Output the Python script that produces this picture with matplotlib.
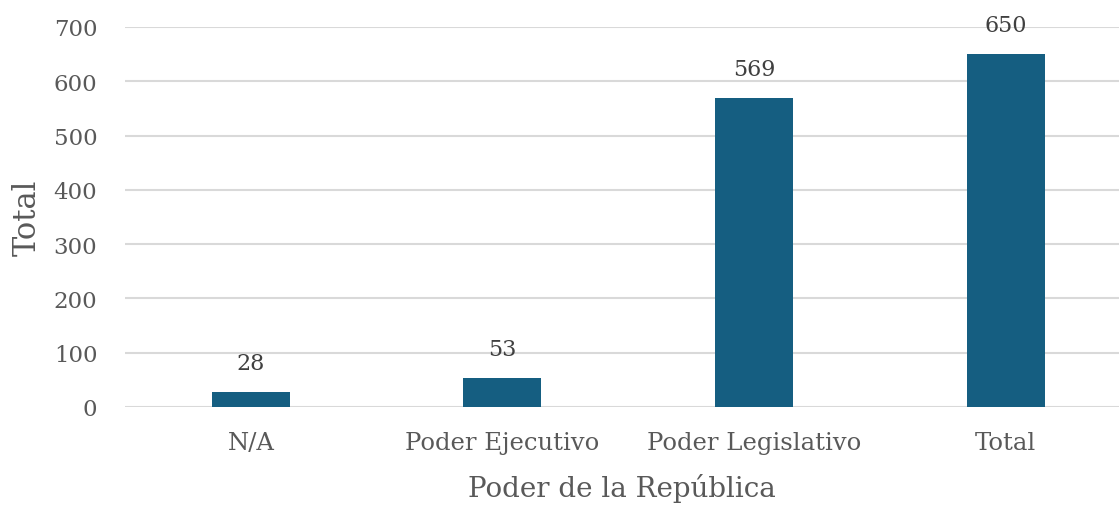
import matplotlib.pyplot as plt

categorias = ["N/A", "Poder Ejecutivo", "Poder Legislativo", "Total"]
totales = [28, 53, 569, 650]

gris = "#595959"
plt.rcParams['font.family'] = ['DejaVu Serif']

fig = plt.figure(figsize=(11.19, 5.06), dpi=100)
ax = fig.add_axes([0.1117, 0.1937, 0.8883, 0.751])

x = range(len(categorias))
barras = ax.bar(x, totales, width=0.31, color="#155E81", zorder=3)

for xi, v in zip(x, totales):
    ax.annotate(str(v), (xi, v), xytext=(0, 13), textcoords="offset points",
                ha="center", va="bottom", fontsize=16, color="#404040")

ax.set_xlim(-0.5, 3.45)
ax.set_ylim(0, 700)
ax.set_yticks(range(0, 701, 100))
ax.set_xticks(list(x))
ax.set_xticklabels(categorias)
ax.tick_params(axis="both", length=0, labelsize=16.5, labelcolor=gris)
ax.tick_params(axis="x", labelsize=17.5, pad=17)
ax.tick_params(axis="y", pad=20)
ax.yaxis.grid(True, color="#d9d9d9", linewidth=1.5, zorder=0)
for s in ax.spines.values():
    s.set_visible(False)

ax.set_xlabel("Poder de la República", fontsize=20, color=gris, labelpad=14)
ax.set_ylabel("Total", fontsize=22, color=gris, labelpad=8)

plt.savefig("out.png", dpi=100)
